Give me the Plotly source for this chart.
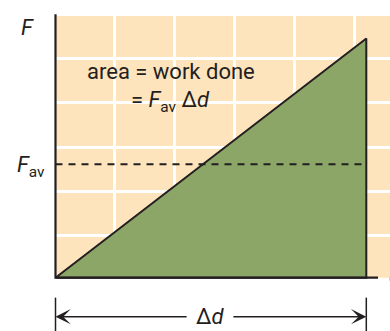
import plotly.graph_objects as go

# data units: x = displacement, y = force
d_total = 5.18          # delta d
f_max = 5.40            # force at the end
f_av = 2.56             # average force (dashed)
grid_top = 5.95         # top of the grid paper
grid_right = 5.6
axis_x_end = 5.375
arrow_y = -0.88
tick_top = -0.45
tick_bottom = -1.25
gap_left = 2.21
gap_right = 2.94

tri_x = [0, d_total, d_total, 0]
tri_y = [0, f_max, 0, 0]

dark = "#231f20"
tan = "#fee4bd"
green = "#8ba666"
font = "Roboto, Arial, sans-serif"

fig = go.Figure()

# green area under the line
fig.add_trace(go.Scatter(x=tri_x, y=tri_y, mode="lines", fill="toself",
                         fillcolor=green, line=dict(color=dark, width=2),
                         hoverinfo="skip", showlegend=False))

# dashed average force
fig.add_trace(go.Scatter(x=[0, d_total], y=[f_av, f_av], mode="lines",
                         line=dict(color=dark, width=2, dash="7px,6px"),
                         hoverinfo="skip", showlegend=False))

# axes
fig.add_trace(go.Scatter(x=[0, 0, axis_x_end], y=[grid_top, 0, 0], mode="lines",
                         line=dict(color=dark, width=2.2),
                         hoverinfo="skip", showlegend=False))

# end ticks of the delta d dimension
for xv in [0, d_total]:
    fig.add_trace(go.Scatter(x=[xv, xv], y=[tick_top, tick_bottom], mode="lines",
                             line=dict(color=dark, width=1.5),
                             hoverinfo="skip", showlegend=False))

# tan grid paper
fig.add_shape(type="rect", x0=0, x1=grid_right + 1, y0=0, y1=grid_top,
              fillcolor=tan, line_width=0, layer="below")

# arrows
for head, tail in [(0, gap_left), (d_total, gap_right)]:
    fig.add_annotation(x=head, y=arrow_y, ax=tail, ay=arrow_y,
                       xref="x", yref="y", axref="x", ayref="y",
                       text="", showarrow=True, arrowhead=3,
                       arrowsize=1.7, arrowwidth=1.5, arrowcolor=dark)

txt = dict(xref="x", yref="y", showarrow=False,
           font=dict(family=font, size=22, color=dark))
fig.add_annotation(x=d_total / 2, y=arrow_y, text="Δ<i>d</i>", **txt)
fig.add_annotation(x=-0.46, y=5.64, text="<i>F</i>", **txt)
fig.add_annotation(x=-0.14, y=2.5, text="<i>F</i><sub>av</sub>",
                   xanchor="right", **txt)
fig.add_annotation(x=0.49, y=4.65, text="area = work done",
                   xanchor="left", **txt)
fig.add_annotation(x=1.23, y=3.97, text="= <i>F</i><sub>av</sub> Δ<i>d</i>",
                   xanchor="left", **txt)
fig.add_annotation(x=5.52, y=0.02, text="<i>d</i>", xanchor="left", **txt)

fig.update_xaxes(range=[-0.925, 5.575], showgrid=True, gridcolor="white",
                 gridwidth=2.5, tick0=0.975, dtick=1, zeroline=False,
                 showticklabels=False, ticks="", fixedrange=True)
fig.update_yaxes(range=[-1.203, 6.269], showgrid=True, gridcolor="white",
                 gridwidth=2.5, tick0=0.948, dtick=1, zeroline=False,
                 showticklabels=False, ticks="", fixedrange=True)
fig.update_layout(width=390, height=331, margin=dict(l=0, r=0, t=0, b=0),
                  plot_bgcolor="white", paper_bgcolor="white",
                  showlegend=False)

fig.write_html("out.html", config={"displayModeBar": False},
               post_script="document.body.style.margin='0';")
